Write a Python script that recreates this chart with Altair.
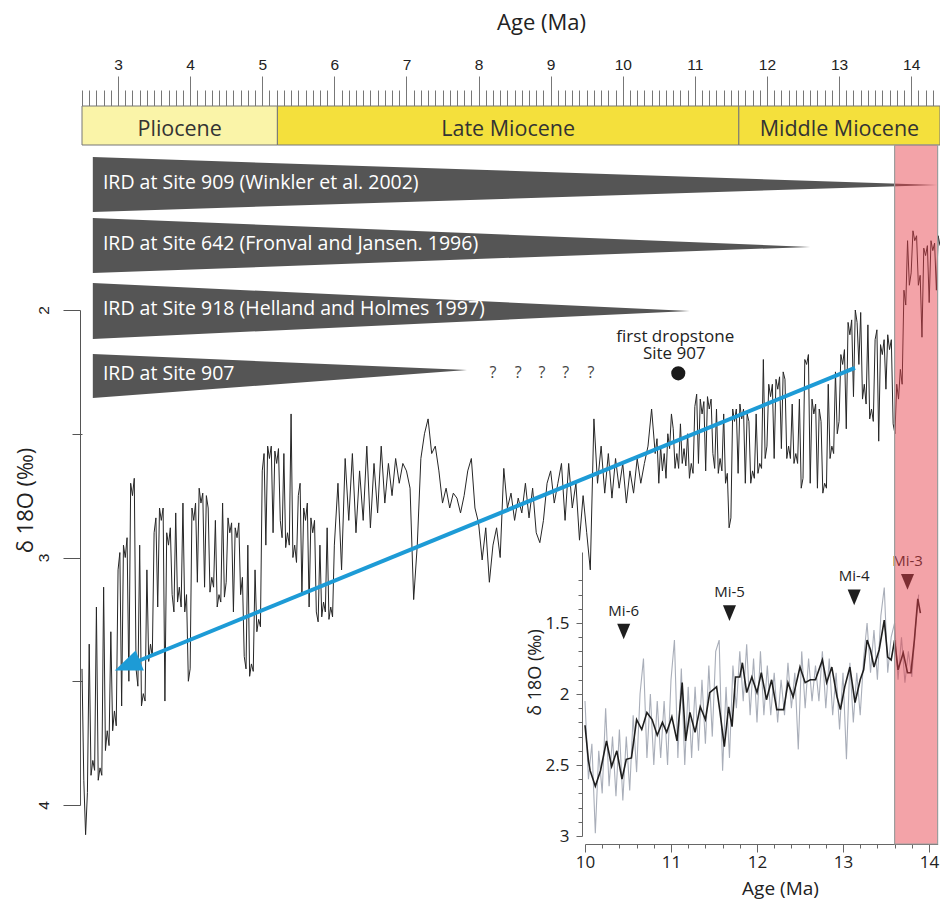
import math
import altair as alt
import pandas as pd

# ---------------------------------------------------------------- data
AGE_MIN, AGE_MAX = 2.5, 14.4

# Benthic d18O compilation, one value every 0.05 Ma starting at 2.50 Ma
MAIN_START = 2.50
MAIN_STEP = 0.05
main_d18o = [
    3.45, 4.12, 3.35, 3.82, 3.20, 3.85, 3.12, 3.70, 3.30, 3.62,
    3.05, 3.60, 3.00, 3.50, 2.75, 3.45, 2.95, 3.55, 3.05, 3.35,
    2.90, 3.20, 2.85, 3.58, 2.95, 3.15, 2.82, 3.12, 2.78, 3.15,
    3.45, 2.85, 3.10, 2.78, 3.12, 2.80, 3.08, 2.85, 3.15, 2.78,
    3.10, 2.90, 3.22, 2.92, 3.15, 3.40, 2.95, 3.43, 3.05, 3.25,
    2.65, 2.95, 2.60, 2.90, 2.62, 2.85, 2.58, 2.90, 2.42, 2.95,
    2.75, 3.15, 2.85, 3.20, 2.90, 3.22, 2.95, 3.18, 2.88, 3.20,
    2.95, 2.70, 3.05, 2.60, 2.85, 2.58, 2.90, 2.65, 2.85, 2.55,
    2.88, 2.62, 2.82, 2.55, 2.78, 2.62, 2.75, 2.60, 2.70, 2.62,
    2.65, 2.72, 3.17, 2.95, 2.60, 2.50, 2.44, 2.58, 2.55, 2.65,
    2.78, 2.72, 2.80, 2.74, 2.76, 2.82, 2.75, 2.65, 2.60, 2.80,
    2.86, 3.01, 2.88, 3.10, 2.95, 2.88, 3.00, 2.64, 2.80, 2.74,
    2.85, 2.76, 2.82, 2.70, 2.84, 2.72, 2.90, 2.94, 2.85, 2.70,
    2.65, 2.78, 2.70, 2.62, 2.85, 2.62, 2.80, 2.70, 2.93, 2.75,
    2.90, 3.05, 2.44, 2.70, 2.55, 2.74, 2.58, 2.76, 2.60, 2.72,
    2.62, 2.78, 2.65, 2.74, 2.60, 2.70, 2.62, 2.55, 2.40, 2.58,
    2.70, 2.65, 2.68, 2.56, 2.48, 2.58, 2.46, 2.56, 2.50, 2.62,
    2.39, 2.62, 2.42, 2.65, 2.40, 2.58, 2.40, 2.60, 2.42, 2.66,
    2.84, 2.45, 2.66, 2.44, 2.70, 2.45, 2.65, 2.42, 2.62, 2.20,
    2.55, 2.35, 2.60, 2.32, 2.56, 2.28, 2.55, 2.38, 2.58, 2.36,
    2.68, 2.22, 2.70, 2.42, 2.72, 2.45, 2.70, 2.30, 2.55, 2.25,
    2.45, 2.22, 2.48, 2.10, 2.35, 2.05, 2.01, 2.30, 2.06, 2.40,
    2.12, 2.53, 2.18, 2.32, 2.16, 2.46, 2.30, 2.24, 1.92, 1.72,
    1.85, 1.72, 1.90, 2.11, 1.78, 1.97, 1.76, 1.92, 1.74,
]
main_age = [round(MAIN_START + i * MAIN_STEP, 3) for i in range(len(main_d18o))]

# Extra, offset samples where the record is densely resolved
# (every 0.05 Ma from 2.525 Ma and from 10.475 Ma)
PLIO_EXTRA_START = 2.525
plio_extra_d18o = [
    3.90, 3.95, 3.88, 3.86, 3.90, 3.88, 3.78, 3.76, 3.70, 3.68,
    2.98, 2.95, 2.92, 2.70, 2.68, 3.52, 3.60, 3.58, 3.42, 3.40,
    2.84, 2.80, 2.80, 2.90, 2.88, 3.22, 3.18, 3.20, 3.22, 3.50,
    2.80, 2.78, 2.72, 2.74, 2.75, 3.14, 3.12, 3.20, 3.18, 3.16,
    2.84, 2.86, 2.88, 2.86, 3.08, 3.45, 3.48, 3.46, 3.30, 3.28,
    2.58, 2.55, 2.55, 2.57, 2.56, 2.92, 2.96, 2.95, 3.00, 3.02,
    2.70, 2.80, 2.78, 2.84, 2.85, 3.26, 3.24, 3.22, 3.25, 3.24,
]
MIO_EXTRA_START = 10.475
mio_extra_d18o = [
    2.52, 2.55, 2.58, 2.50, 2.42, 2.64, 2.64, 2.62, 2.63, 2.68, 2.66,
    2.34, 2.36, 2.37, 2.35, 2.36, 2.64, 2.66, 2.65, 2.70, 2.88,
    2.40, 2.40, 2.38, 2.40, 2.42, 2.70, 2.68, 2.66, 2.64, 2.60,
    2.30, 2.30, 2.28, 2.27, 2.25, 2.60, 2.60, 2.62, 2.62, 2.72,
    2.20, 2.18, 2.36, 2.38, 2.40, 2.74, 2.72, 2.60, 2.58, 2.50,
    2.18, 2.16, 2.05, 2.04, 2.00, 2.22, 2.36, 2.38, 2.44, 2.45,
    2.08, 2.14, 2.12, 2.10, 2.12, 2.50, 2.36, 2.30, 1.98, 1.90,
    1.68, 1.70, 1.86, 1.75, 1.74, 1.72, 1.73, 1.70,
]
plio_extra_age = [round(PLIO_EXTRA_START + i * MAIN_STEP, 3) for i in range(len(plio_extra_d18o))]
mio_extra_age = [round(MIO_EXTRA_START + i * MAIN_STEP, 3) for i in range(len(mio_extra_d18o))]

# Geological epochs (Ma)
epoch_name = ["Pliocene", "Late Miocene", "Middle Miocene"]
epoch_start = [2.5, 5.21, 11.61]
epoch_end = [5.21, 11.61, 14.4]
epoch_fill = ["#faf4a8", "#f4e03c", "#f4e03c"]

# Ice-rafted debris records: wedge from young end to onset age
ird_text = [
    "IRD at Site 909 (Winkler et al. 2002)",
    "IRD at Site 642 (Fronval and Jansen. 1996)",
    "IRD at Site 918 (Helland and Holmes 1997)",
    "IRD at Site 907",
]
ird_young = [2.65, 2.65, 2.65, 2.65]
ird_onset = [14.36, 12.60, 10.93, 7.84]
ird_top = [1.382, 1.628, 1.891, 2.178]
ird_bottom = [1.604, 1.851, 2.117, 2.356]
ird_tip = [1.495, 1.745, 2.004, 2.242]
IRD_LABEL_AGE = 2.79

# Uncertain IRD continuation at Site 907 and first dropstone
question_age = [8.20, 8.55, 8.88, 9.21, 9.56]
question_d18o = [2.255] * 5
dropstone_age = [10.77]
dropstone_d18o = [2.256]

# Long-term trend arrow (old -> young)
trend_age = [13.22, 2.954]
trend_d18o = [2.234, 3.457]

# Inset: 10-14 Ma detail, raw record every 0.04 Ma from 10.00 Ma
RAW_START = 10.00
RAW_STEP = 0.04
raw_d18o = [
    2.05, 2.60, 2.35, 2.98, 2.40, 2.70, 2.10, 2.65, 2.30, 2.72,
    2.25, 2.75, 2.30, 2.68, 2.15, 2.55, 2.00, 1.75, 2.45, 2.00,
    2.50, 2.05, 2.45, 2.05, 2.50, 1.90, 1.62, 2.45, 1.82, 2.50,
    1.95, 2.45, 1.95, 2.40, 1.90, 2.35, 1.80, 2.30, 1.70, 1.62,
    2.54, 1.95, 2.45, 1.80, 2.10, 1.70, 2.05, 1.65, 2.15, 1.75,
    2.20, 1.70, 2.15, 1.80, 2.15, 1.85, 2.20, 1.90, 2.15, 1.78,
    2.10, 1.85, 2.39, 1.70, 2.10, 1.75, 2.05, 1.80, 2.05, 1.70,
    2.10, 1.75, 2.15, 1.85, 2.25, 1.85, 2.46, 1.78, 2.20, 1.85,
    2.15, 1.75, 1.50, 1.85, 1.55, 1.90, 1.45, 1.25, 1.85, 1.60,
    1.50, 1.90, 1.60, 1.92, 1.70, 1.88, 1.55, 1.30,
]
raw_age = [round(RAW_START + i * RAW_STEP, 2) for i in range(len(raw_d18o))]

smooth_age = [
    10.00, 10.04, 10.06, 10.12, 10.18, 10.25, 10.31, 10.37, 10.43, 10.48,
    10.54, 10.60, 10.66, 10.72, 10.78, 10.84, 10.90, 10.95, 11.01, 11.07,
    11.13, 11.17, 11.22, 11.28, 11.34, 11.40, 11.45, 11.53, 11.57, 11.62,
    11.67, 11.71, 11.75, 11.80, 11.83, 11.88, 11.94, 12.00, 12.05, 12.11,
    12.17, 12.23, 12.31, 12.36, 12.42, 12.50, 12.56, 12.62, 12.68, 12.76,
    12.81, 12.87, 12.93, 12.97, 13.02, 13.08, 13.14, 13.20, 13.24, 13.28,
    13.32, 13.36, 13.42, 13.48, 13.52, 13.56, 13.60, 13.64, 13.70, 13.75,
    13.79, 13.83, 13.87, 13.90,
]
smooth_d18o = [
    2.22, 2.47, 2.54, 2.65, 2.54, 2.33, 2.51, 2.40, 2.60, 2.46,
    2.45, 2.18, 2.25, 2.13, 2.18, 2.29, 2.20, 2.27, 2.16, 2.33,
    1.92, 2.33, 2.13, 2.27, 2.09, 2.18, 1.99, 1.95, 2.13, 2.37,
    2.09, 2.23, 1.88, 1.88, 1.78, 1.99, 1.88, 1.99, 1.85, 2.04,
    1.90, 2.11, 2.11, 1.92, 2.02, 1.81, 1.92, 1.90, 1.90, 1.76,
    1.92, 1.81, 2.02, 2.11, 1.95, 1.81, 2.06, 1.90, 1.83, 1.62,
    1.69, 1.81, 1.69, 1.48, 1.74, 1.76, 1.62, 1.83, 1.71, 1.85,
    1.85, 1.62, 1.33, 1.43,
]

# Miocene isotope events
mi_name = ["Mi-6", "Mi-5", "Mi-4", "Mi-3"]
mi_age = [10.45, 11.68, 13.13, 13.75]
mi_d18o = [1.56, 1.43, 1.32, 1.21]
MI3_START, MI3_END = 13.6, 14.1

# ---------------------------------------------------------------- layout
W, H = 858, 744
PAD = {"left": 82, "top": 106, "right": 0, "bottom": 49}
MAIN_Y_RANGE = [204, 699]          # pixel span of d18O 2..4
INSET_X_RANGE = [503, 855.6]       # pixel span of 10..14.1 Ma
INSET_Y_RANGE = [446, 730]         # pixel span of d18O 1..3
EPOCH_BAR = (0, 39)
BAND_Y = (39, 738)

TEXT_FONT = "Open Sans"
NUM_FONT = "Liberation Sans"


def steps(start, stop, step):
    """Tick positions from start to stop (inclusive)."""
    n = int(round((stop - start) / step))
    return [round(start + k * step, 2) for k in range(n + 1)]


def without(values, drop):
    return [v for v in values if all(abs(v - d) > 1e-6 for d in drop)]


main_x = alt.Scale(domain=[AGE_MIN, AGE_MAX], nice=False, zero=False)
main_y = alt.Scale(domain=[2, 4], range=MAIN_Y_RANGE, nice=False, zero=False)
inset_x = alt.Scale(domain=[10, 14.1], range=INSET_X_RANGE, nice=False, zero=False)
inset_y = alt.Scale(domain=[1.0, 3.0], range=INSET_Y_RANGE, nice=False, zero=False)

TOP_MAJOR = steps(3, 14, 1)
LEFT_MAJOR = [2, 3, 4]
INSET_X_MAJOR = steps(10, 14, 1)
INSET_Y_MAJOR = [1.5, 2, 2.5, 3]

top_major = alt.Axis(
    orient="top", values=TOP_MAJOR, tickSize=30, tickColor="#777", domainColor="#666",
    labelExpr="format(datum.value, 'd')", labelOverlap=False, labelFlush=False,
    labelFont=NUM_FONT, labelFontSize=15.5, labelColor="#222", labelPadding=4, grid=False,
    title="Age (Ma)", titleFont=TEXT_FONT, titleFontSize=22, titleFontWeight="normal",
    titleColor="#222", titleX=459, titleY=-84, titleBaseline="middle", titleAlign="center",
)
top_minor = alt.Axis(
    orient="top", values=without(steps(2.5, 14.4, 0.1), TOP_MAJOR), tickSize=16,
    tickColor="#777", labels=False, domain=False, grid=False, title="",
)
left_major = alt.Axis(
    orient="left", offset=2, values=LEFT_MAJOR, tickSize=17,
    tickColor="#555", domainColor="#555",
    labelExpr="format(datum.value, 'd')",
    labelAngle=270, labelAlign="center", labelBaseline="bottom", labelPadding=12,
    labelOverlap=False, labelFont=NUM_FONT, labelFontSize=15.5, labelColor="#222", grid=False,
    title="δ 18O (‰)", titleFont=TEXT_FONT, titleFontSize=22, titleFontWeight="normal",
    titleColor="#222", titleAngle=270, titleX=-55, titleY=394,
    titleBaseline="middle", titleAlign="center",
)
left_minor = alt.Axis(
    orient="left", values=[2.5, 3.5], tickSize=10, tickColor="#555",
    labels=False, domain=False, grid=False, title="",
)
inset_x_major = alt.Axis(
    orient="bottom", offset=-6, values=INSET_X_MAJOR, tickSize=8,
    tickColor="#666", domainColor="#666",
    labelExpr="format(datum.value, 'd')", labelOverlap=False, labelFlush=False,
    labelFont=TEXT_FONT, labelFontSize=17, labelColor="#222", labelPadding=2, grid=False,
    title="Age (Ma)", titleFont=TEXT_FONT, titleFontSize=19, titleFontWeight="normal",
    titleColor="#222", titleX=698, titleY=44, titleBaseline="middle", titleAlign="center",
)
inset_x_minor = alt.Axis(
    orient="bottom", offset=-6, values=without(steps(10, 14, 0.2), INSET_X_MAJOR),
    tickSize=4, tickColor="#666", labels=False, domain=False, grid=False, title="",
)
inset_y_major = alt.Axis(
    orient="left", offset=-500, values=INSET_Y_MAJOR, tickSize=6,
    tickColor="#666", domainColor="#666",
    labelExpr="format(datum.value, '~g')", labelOverlap=False, labelFlush=False,
    labelFont=TEXT_FONT, labelFontSize=17, labelColor="#222", labelPadding=7, grid=False,
    title="δ 18O (‰)", titleFont=TEXT_FONT, titleFontSize=18, titleFontWeight="normal",
    titleColor="#222", titleAngle=270, titleX=-47, titleY=566,
    titleBaseline="middle", titleAlign="center",
)
inset_y_minor = alt.Axis(
    orient="left", offset=-500, values=without(steps(1.2, 3.0, 0.1), INSET_Y_MAJOR),
    tickSize=4, tickColor="#666", labels=False, domain=False, grid=False, title="",
)

# ---------------------------------------------------------------- frames
main_df = pd.DataFrame({
    "age": main_age + plio_extra_age + mio_extra_age,
    "d18o": main_d18o + plio_extra_d18o + mio_extra_d18o,
}).sort_values("age").reset_index(drop=True)

epoch_df = pd.DataFrame({
    "name": epoch_name, "start": epoch_start, "end": epoch_end, "fill": epoch_fill,
})
epoch_df["mid"] = (epoch_df["start"] + epoch_df["end"]) / 2

wedge_rows = []
for i, txt in enumerate(ird_text):
    wedge_rows.append({"site": i, "age": ird_young[i], "top": ird_top[i], "bottom": ird_bottom[i]})
    wedge_rows.append({"site": i, "age": ird_onset[i], "top": ird_tip[i], "bottom": ird_tip[i]})
wedge_df = pd.DataFrame(wedge_rows)
wedge_label_df = pd.DataFrame({
    "text": ird_text,
    "age": [IRD_LABEL_AGE] * len(ird_text),
    "mid": [(t + b) / 2 for t, b in zip(ird_top, ird_bottom)],
})
question_df = pd.DataFrame({"age": question_age, "d18o": question_d18o, "t": ["?"] * 5})
drop_df = pd.DataFrame({"age": dropstone_age, "d18o": dropstone_d18o})

# trend arrow geometry: line ends at the arrowhead base
px_age = W / (AGE_MAX - AGE_MIN)
px_d = (MAIN_Y_RANGE[1] - MAIN_Y_RANGE[0]) / 2
dx = (trend_age[1] - trend_age[0]) * px_age
dy = (trend_d18o[1] - trend_d18o[0]) * px_d
seg = math.hypot(dx, dy)
HEAD_LEN = 27
base_age = trend_age[1] - dx / seg * (HEAD_LEN - 3) / px_age
base_d18o = trend_d18o[1] - dy / seg * (HEAD_LEN - 3) / px_d
head_angle = math.degrees(math.atan2(-dy, -dx)) % 360
trend_df = pd.DataFrame({"age": [trend_age[0], base_age], "d18o": [trend_d18o[0], base_d18o]})
head_df = pd.DataFrame({"age": [trend_age[1]], "d18o": [trend_d18o[1]]})

raw_df = pd.DataFrame({"age": raw_age, "d18o": raw_d18o})
smooth_df = pd.DataFrame({"age": smooth_age, "d18o": smooth_d18o})
mi_df = pd.DataFrame({"name": mi_name, "age": mi_age, "d18o": mi_d18o})
band_df = pd.DataFrame({"start": [MI3_START], "end": [MI3_END]})

BLUE = "#1d9bd6"


def mx(field):
    return alt.X(field, type="quantitative", scale=main_x, axis=None)


def my(field):
    return alt.Y(field, type="quantitative", scale=main_y, axis=None)


def ix(field):
    return alt.X(field, type="quantitative", scale=inset_x, axis=None)


def iy(field):
    return alt.Y(field, type="quantitative", scale=inset_y, axis=None)


# ---------------------------------------------------------------- main panel
epochs = alt.Chart(epoch_df).mark_rect(stroke="#777", strokeWidth=1).encode(
    x=mx("start"), x2="end", y=alt.value(EPOCH_BAR[0]), y2=alt.value(EPOCH_BAR[1]),
    color=alt.Color("fill:N", scale=None),
)
epoch_labels = alt.Chart(epoch_df).mark_text(
    font=TEXT_FONT, fontSize=21.5, color="#333", baseline="middle", align="center",
).encode(x=mx("mid"), y=alt.value(24), text="name:N")

wedges = alt.Chart(wedge_df).mark_area(color="#555555", opacity=1).encode(
    x=mx("age"), y=my("top"), y2="bottom", detail="site:N",
)
wedge_labels = alt.Chart(wedge_label_df).mark_text(
    font=TEXT_FONT, fontSize=19.5, color="white", align="left", baseline="middle", dy=-2,
).encode(x=mx("age"), y=my("mid"), text="text:N")

questions = alt.Chart(question_df).mark_text(
    font=TEXT_FONT, fontSize=16, color="#444", baseline="middle",
).encode(x=mx("age"), y=my("d18o"), text="t:N")

dropstone = alt.Chart(drop_df).mark_circle(size=200, color="#1a1a1a", opacity=1).encode(
    x=mx("age"), y=my("d18o"),
)
drop_line1 = alt.Chart(drop_df).mark_text(
    text="first dropstone", font=TEXT_FONT, fontSize=17, color="#222",
    baseline="middle", dx=-3, dy=-36,
).encode(x=mx("age"), y=my("d18o"))
drop_line2 = alt.Chart(drop_df).mark_text(
    text="Site 907", font=TEXT_FONT, fontSize=17, color="#222",
    baseline="middle", dx=-4, dy=-19,
).encode(x=mx("age"), y=my("d18o"))

record = alt.Chart(main_df).mark_line(color="#262626", strokeWidth=1.0).encode(
    x=alt.X("age:Q", scale=main_x, axis=top_major),
    y=alt.Y("d18o:Q", scale=main_y, axis=left_major),
)

# the trend layer also carries the minor tick marks of both main axes
trend = alt.Chart(trend_df).mark_line(color=BLUE, strokeWidth=4).encode(
    x=alt.X("age:Q", scale=main_x, axis=top_minor),
    y=alt.Y("d18o:Q", scale=main_y, axis=left_minor),
)
head = alt.Chart(head_df).mark_point(
    shape="M0,0L2,-0.8L2,0.8Z", size=HEAD_LEN ** 2, filled=True, color=BLUE,
    opacity=1, angle=head_angle,
).encode(x=mx("age"), y=my("d18o"))

main_panel = alt.layer(
    epochs, epoch_labels, wedges, wedge_labels, questions, dropstone,
    drop_line1, drop_line2, record, trend, head,
).resolve_axis(x="independent", y="independent")

# ---------------------------------------------------------------- inset
raw = alt.Chart(raw_df).mark_line(color="#a9aeb9", strokeWidth=1.1).encode(
    x=alt.X("age:Q", scale=inset_x, axis=inset_x_major),
    y=alt.Y("d18o:Q", scale=inset_y, axis=inset_y_major),
)
smooth = alt.Chart(smooth_df).mark_line(color="#1e1e1e", strokeWidth=1.6).encode(
    x=alt.X("age:Q", scale=inset_x, axis=inset_x_minor),
    y=alt.Y("d18o:Q", scale=inset_y, axis=inset_y_minor),
)
mi_marks = alt.Chart(mi_df).mark_point(
    shape="M-1,-1.2L1,-1.2L0,1.2Z", size=170, filled=True, color="#1e1e1e", opacity=1,
).encode(x=ix("age"), y=iy("d18o"))
mi_labels = alt.Chart(mi_df).mark_text(
    font=TEXT_FONT, fontSize=15, color="#222", baseline="middle", dy=-21,
).encode(x=ix("age"), y=iy("d18o"), text="name:N")

mi3_band = alt.Chart(band_df).mark_rect(
    fill="#e53e49", fillOpacity=0.48, stroke="#9d9d9d", strokeWidth=1.2,
).encode(x=ix("start"), x2="end", y=alt.value(BAND_Y[0]), y2=alt.value(BAND_Y[1]))

inset_panel = alt.layer(
    raw, smooth, mi_marks, mi_labels, mi3_band,
).resolve_axis(x="independent", y="independent")

chart = (
    alt.layer(main_panel, inset_panel)
    .resolve_scale(x="independent", y="independent")
    .properties(
        width=W, height=H, padding=PAD,
        autosize=alt.AutoSizeParams(type="none"), background="white",
    )
    .configure_view(strokeOpacity=0)
)

chart.save("out.html", embed_options={"renderer": "svg", "actions": False})
